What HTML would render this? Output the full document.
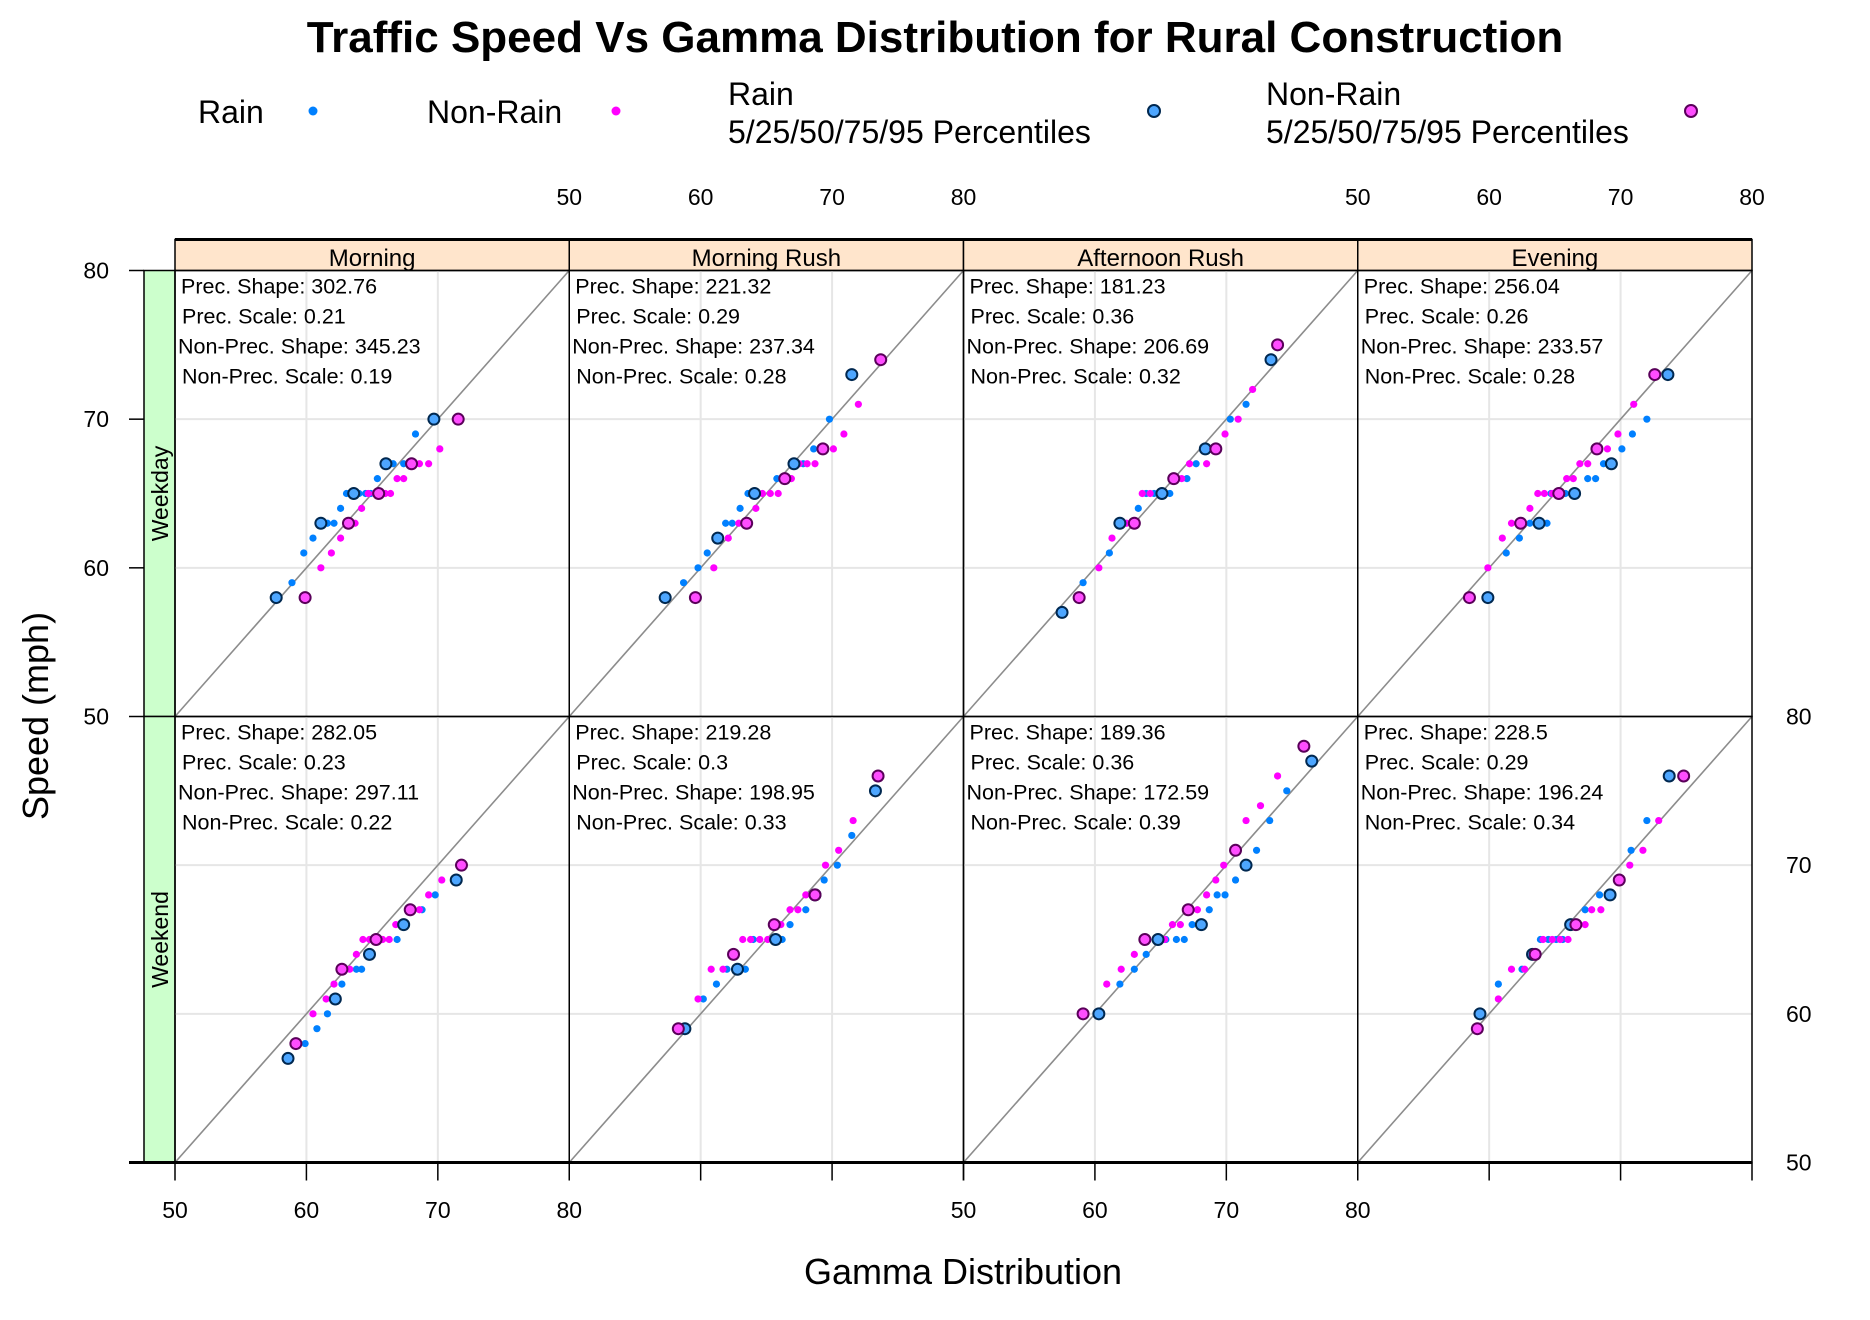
<!DOCTYPE html>
<html><head><meta charset="utf-8"><style>
html,body{margin:0;padding:0;background:#fff}
svg{display:block;font-family:"Liberation Sans",sans-serif}
</style></head><body>
<svg id="chart" width="1870" height="1320" viewBox="0 0 1870 1320" xmlns="http://www.w3.org/2000/svg">
<text x="935" y="52" text-anchor="middle" font-size="44" font-weight="bold">Traffic Speed Vs Gamma Distribution for Rural Construction</text>
<g font-size="32">
 <text x="198" y="123">Rain</text>
 <circle cx="313" cy="111" r="4.5" fill="#0080ff"/>
 <text x="427" y="123">Non-Rain</text>
 <circle cx="616" cy="111" r="4.5" fill="#ff00ff"/>
 <text x="728" y="105">Rain</text>
 <text x="728" y="143">5/25/50/75/95 Percentiles</text>
 <circle cx="1154" cy="111" r="6" fill="#4da6ff" stroke="#002850" stroke-width="2"/>
 <text x="1266" y="105">Non-Rain</text>
 <text x="1266" y="143">5/25/50/75/95 Percentiles</text>
 <circle cx="1691" cy="111" r="6" fill="#ff4dff" stroke="#5a005a" stroke-width="2"/>
</g>
<text transform="translate(48,716) rotate(-90)" text-anchor="middle" font-size="36">Speed (mph)</text>
<text x="963" y="1284" text-anchor="middle" font-size="36">Gamma Distribution</text>
<g id="plot"></g>
</svg>
<script>
const panelNames = ["Morning","Morning Rush","Afternoon Rush","Evening"];
const rowNames = ["Weekday","Weekend"];
const axisTicks = [50,60,70,80];
const precShape = ["302.76","221.32","181.23","256.04","282.05","219.28","189.36","228.5"];
const precScale = ["0.21","0.29","0.36","0.26","0.23","0.3","0.36","0.29"];
const nonPrecShape = ["345.23","237.34","206.69","233.57","297.11","198.95","172.59","196.24"];
const nonPrecScale = ["0.19","0.28","0.32","0.28","0.22","0.33","0.39","0.34"];

const rainPctX = [[57.7,61.1,63.6,66.05,69.7],[57.3,61.3,64.1,67.1,71.5],[57.5,61.9,65.1,68.4,73.4],[59.9,63.8,66.5,69.3,73.6],
 [58.6,62.2,64.8,67.4,71.4],[58.8,62.8,65.7,68.7,73.3],[60.3,64.8,68.1,71.5,76.5],[59.3,63.3,66.2,69.2,73.7]];
const rainPctY = [[58,63,65,67,70],[58,62,65,67,73],[57,63,65,68,74],[58,63,65,67,73],
 [57,61,64,66,69],[59,63,65,68,75],[60,65,66,70,77],[60,64,66,68,76]];
const nonPctX = [[59.9,63.2,65.5,68.0,71.55],[59.6,63.5,66.4,69.3,73.7],[58.8,63.0,66.0,69.2,73.9],[58.5,62.4,65.3,68.2,72.6],
 [59.2,62.7,65.3,67.9,71.8],[58.3,62.5,65.6,68.7,73.5],[59.1,63.8,67.1,70.7,75.9],[59.1,63.5,66.6,69.9,74.8]];
const nonPctY = [[58,63,65,67,70],[58,63,66,68,74],[58,63,66,68,75],[58,63,65,68,73],
 [58,63,65,67,70],[59,64,66,68,76],[60,65,67,71,78],[59,64,66,69,76]];
const rainX = [[58.9,59.8,60.5,61.6,62.1,62.6,63.05,64.0,64.5,64.9,65.4,66.6,67.4,68.3],
 [58.7,59.8,60.5,61.9,62.4,63.0,63.6,65.8,67.8,68.6,69.8],
 [59.1,61.1,63.3,63.9,64.5,65.7,67.0,67.7,70.3,71.5],
 [61.3,62.3,63.1,64.4,64.7,65.8,67.5,68.1,68.7,70.1,70.9,72.0],
 [59.9,60.8,61.6,62.7,63.8,64.2,66.9,68.8,69.8],
 [60.2,61.2,62.0,63.4,64.0,66.2,66.8,68.0,69.4,70.4,71.5],
 [61.9,63.0,63.9,65.4,66.2,66.8,67.4,68.7,69.3,69.9,70.7,72.3,73.3,74.6],
 [60.7,62.5,63.9,64.5,65.1,65.6,67.3,68.4,70.8,72.0]];
const rainY = [[59,61,62,63,63,64,65,65,65,65,66,67,67,69],
 [59,60,61,63,63,64,65,66,67,68,70],
 [59,61,64,65,65,65,66,67,70,71],
 [61,62,63,63,65,65,66,66,67,68,69,70],
 [58,59,60,62,63,63,65,67,68],
 [61,62,63,63,65,65,66,67,69,70,72],
 [62,63,64,65,65,65,66,67,68,68,69,71,73,75],
 [62,63,65,65,65,65,67,68,71,73]];
const nonX = [[61.1,61.9,62.6,63.7,64.2,64.7,65.2,66.0,66.4,66.9,67.4,68.6,69.3,70.15],
 [61.0,62.1,62.9,64.2,64.7,65.3,65.9,66.9,67.5,68.1,68.7,70.1,70.9,72.0],
 [60.3,61.3,62.4,63.6,64.2,66.6,67.2,68.5,69.9,70.9,72.0],
 [59.9,61.0,61.7,63.1,63.7,64.2,64.8,65.9,66.4,66.9,67.5,69.0,69.8,71.0],
 [60.5,61.5,62.1,63.3,63.8,64.3,64.8,65.8,66.3,66.8,68.6,69.3,70.3],
 [59.8,60.8,61.7,63.2,63.8,64.5,65.1,66.1,66.8,67.4,68.0,69.5,70.5,71.6],
 [60.9,62.0,63.0,65.3,65.9,66.5,67.8,68.5,69.2,69.8,71.5,72.6,73.9],
 [60.7,61.7,62.7,64.1,64.8,65.4,66.0,67.3,67.8,68.5,70.7,71.7,72.9]];
const nonY = [[60,61,62,63,64,65,65,65,65,66,66,67,67,68],
 [60,62,63,64,65,65,65,66,67,67,67,68,69,71],
 [60,62,63,65,65,66,67,67,69,70,72],
 [60,62,63,64,65,65,65,66,66,67,67,68,69,71],
 [60,61,62,63,64,65,65,65,65,66,67,68,69],
 [61,63,63,65,65,65,65,66,67,67,68,70,71,73],
 [62,63,64,65,66,66,67,68,69,70,73,74,76],
 [61,63,63,65,65,65,65,66,67,67,70,71,73]];

const NS = "http://www.w3.org/2000/svg";
const plot = document.getElementById("plot");
const L0 = 175, PW = 394.25, STRIP_TOP = 239.5, T0 = 270.5, PH = 446;
function mk(tag, attrs, parent){
  const e = document.createElementNS(NS, tag);
  for (const k in attrs) e.setAttribute(k, attrs[k]);
  (parent || plot).appendChild(e);
  return e;
}
function xs(col, v){ return L0 + col*PW + (v-50)/30*PW; }
function ys(row, v){ return T0 + row*PH + (80-v)/30*PH; }

for (let c=0;c<4;c++){
  const r = mk("rect",{x:L0+c*PW,y:STRIP_TOP,width:PW,height:T0-STRIP_TOP,fill:"#ffe5cc",stroke:"#000","stroke-width":1.5});
  
  
  const t = mk("text",{x:L0+c*PW+PW/2,y:266,"text-anchor":"middle","font-size":24});
  t.textContent = panelNames[c];
  
  
}
const stripTop = mk("line",{x1:L0,x2:L0+4*PW,y1:STRIP_TOP,y2:STRIP_TOP,stroke:"#000","stroke-width":3});


for (let r=0;r<2;r++){
  const g = mk("rect",{x:144,y:T0+r*PH,width:L0-144,height:PH,fill:"#ccffcc",stroke:"#000","stroke-width":1.5});
  
  
  const cy = T0+r*PH+PH/2;
  const t = mk("text",{x:0,y:0,"text-anchor":"middle","font-size":23,transform:"translate(168,"+cy+") rotate(-90)"});
  t.textContent = rowNames[r];
  
  
}
for (let p=0;p<8;p++){
  const row = Math.floor(p/4), col = p%4;
  const g = mk("g",{});
  
  
  for (const v of [60,70]){
    const gl = mk("line",{x1:xs(col,v),x2:xs(col,v),y1:T0+row*PH,y2:T0+row*PH+PH,stroke:"#e6e6e6","stroke-width":2},g);
    
    
    const gh = mk("line",{x1:L0+col*PW,x2:L0+col*PW+PW,y1:ys(row,v),y2:ys(row,v),stroke:"#e6e6e6","stroke-width":2},g);
    
    
  }
  const d = mk("line",{x1:xs(col,50),y1:ys(row,50),x2:xs(col,80),y2:ys(row,80),stroke:"#8c8c8c","stroke-width":1.6},g);
  
  
  const lines = ["Prec. Shape: "+precShape[p]," Prec. Scale: "+precScale[p],"Non-Prec. Shape: "+nonPrecShape[p]," Non-Prec. Scale: "+nonPrecScale[p]];
  const offs = [6,7,3,7];
  for (let i=0;i<4;i++){
    const t = mk("text",{x:L0+col*PW+offs[i],y:T0+row*PH+23+i*30,"font-size":21.5,"xml:space":"preserve"},g);
    t.textContent = lines[i];
    
    
  }
  for (let i=0;i<rainX[p].length;i++){
    const c = mk("circle",{cx:xs(col,rainX[p][i]),cy:ys(row,rainY[p][i]),r:3.6,fill:"#0080ff"},g);
    
    
  }
  for (let i=0;i<nonX[p].length;i++){
    const c = mk("circle",{cx:xs(col,nonX[p][i]),cy:ys(row,nonY[p][i]),r:3.6,fill:"#ff00ff"},g);
    
    
  }
  for (let i=0;i<rainPctX[p].length;i++){
    const c = mk("circle",{cx:xs(col,rainPctX[p][i]),cy:ys(row,rainPctY[p][i]),r:5.5,fill:"#4da6ff",stroke:"#002850","stroke-width":2},g);
    
    
  }
  for (let i=0;i<nonPctX[p].length;i++){
    const c = mk("circle",{cx:xs(col,nonPctX[p][i]),cy:ys(row,nonPctY[p][i]),r:5.5,fill:"#ff4dff",stroke:"#5a005a","stroke-width":2},g);
    
    
  }
  const b = mk("rect",{x:L0+col*PW,y:T0+row*PH,width:PW,height:PH,fill:"none",stroke:"#000","stroke-width":1.5},g);
  
  
}
const BOT = T0+2*PH;
const botLine = mk("line",{x1:129,x2:L0+4*PW,y1:BOT,y2:BOT,stroke:"#000","stroke-width":3});


for (let c=0;c<4;c++){
  for (const v of axisTicks){
    const x = xs(c,v);
    const tb = mk("line",{x1:x,x2:x,y1:BOT,y2:BOT+18,stroke:"#000","stroke-width":1.5});
    
    
    if (c%2===0){
      const t = mk("text",{x:x,y:1218,"text-anchor":"middle","font-size":23});
      t.textContent = v;
      
      
    } else {
      const t = mk("text",{x:x,y:205,"text-anchor":"middle","font-size":23});
      t.textContent = v;
      
      
    }
  }
}
for (let r=0;r<2;r++){
  for (const v of axisTicks){
    const y = ys(r,v);
    if (r===0){
      const tl = mk("line",{x1:144,x2:129,y1:y,y2:y,stroke:"#000","stroke-width":1.5});
      
      
      const t = mk("text",{x:109,y:y+8,"text-anchor":"end","font-size":23});
      t.textContent = v;
      
      
    } else {
      const t = mk("text",{x:1786,y:y+8,"font-size":23});
      t.textContent = v;
      
      
    }
  }
}
</script>
</body></html>
